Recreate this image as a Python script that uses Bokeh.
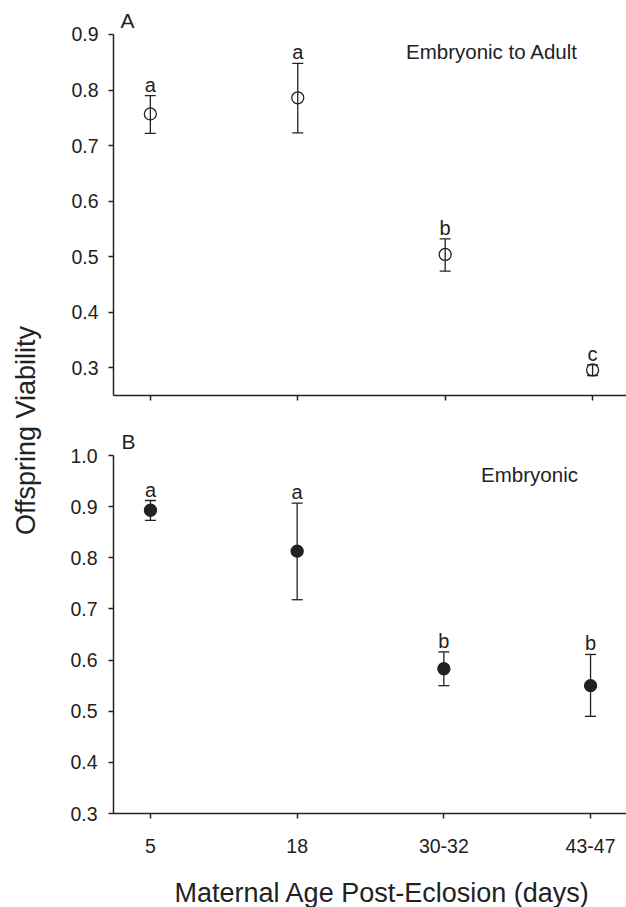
import math
from bokeh.plotting import figure
from bokeh.layouts import row, column
from bokeh.models import (ColumnDataSource, Range1d, FixedTicker, PrintfTickFormatter,
                          Whisker, TeeHead, Label)
from bokeh.core.properties import value
from bokeh.embed import file_html
from bokeh.resources import INLINE

# ---------------- data ----------------
age_groups = ["5", "18", "30-32", "43-47"]
positions = [0, 1, 2, 3]

adult_mean = [0.757, 0.786, 0.504, 0.296]
adult_upper = [0.790, 0.848, 0.532, 0.305]
adult_lower = [0.722, 0.723, 0.474, 0.286]
adult_letters = ["a", "a", "b", "c"]

embryo_mean = [0.893, 0.813, 0.583, 0.550]
embryo_upper = [0.912, 0.907, 0.616, 0.611]
embryo_lower = [0.873, 0.718, 0.550, 0.490]
embryo_letters = ["a", "a", "b", "b"]

adult_yticks = [0.3, 0.4, 0.5, 0.6, 0.7, 0.8, 0.9]
embryo_yticks = [0.3, 0.4, 0.5, 0.6, 0.7, 0.8, 0.9, 1.0]

FONT = "Liberation Sans"
INK = "#222222"


def style(p, yticks, ybounds, y_standoff, show_xlabels):
    p.grid.visible = False
    p.outline_line_color = None
    p.background_fill_color = "white"
    p.border_fill_color = "white"
    for ax in (p.xaxis[0], p.yaxis[0]):
        ax.axis_line_color = INK
        ax.axis_line_width = 1.5
        ax.major_tick_line_color = INK
        ax.major_tick_line_width = 1.5
        ax.major_tick_out = 5
        ax.major_tick_in = 0
        ax.minor_tick_line_color = None
        ax.major_label_text_font = FONT
        ax.major_label_text_font_size = "19.5px"
        ax.major_label_text_color = INK
    p.yaxis[0].ticker = FixedTicker(ticks=yticks)
    p.yaxis[0].formatter = PrintfTickFormatter(format="%.1f")
    p.yaxis[0].major_label_standoff = y_standoff
    p.yaxis[0].bounds = ybounds
    p.xaxis[0].ticker = FixedTicker(ticks=positions)
    p.xaxis[0].major_label_overrides = {pos: lab for pos, lab in zip(positions, age_groups)}
    p.xaxis[0].major_label_standoff = 20
    if not show_xlabels:
        p.xaxis[0].major_label_text_color = None
        p.xaxis[0].major_label_standoff = 0


def panel(p, mean, upper, lower, letters, filled):
    src = ColumnDataSource(dict(x=positions, mean=mean, upper=upper, lower=lower, letter=letters))
    w = Whisker(base="x", upper="upper", lower="lower", source=src,
                line_color=INK, line_width=1.3,
                upper_head=TeeHead(size=11, line_color=INK, line_width=1.3),
                lower_head=TeeHead(size=11, line_color=INK, line_width=1.3))
    p.add_layout(w)
    p.scatter(x="x", y="mean", source=src, size=12, marker="circle",
              line_color=INK, line_width=1.3,
              fill_color=INK if filled else None)
    p.text(x="x", y="upper", text="letter", source=src,
           text_font=value(FONT), text_font_size="20px", text_color=INK,
           text_align="center", text_baseline="bottom")


# ---------------- left strip with the shared y title ----------------
p0 = figure(width=58, height=907, x_range=Range1d(0, 58), y_range=Range1d(907, 0),
            output_backend="svg", toolbar_location=None, min_border=0)
p0.axis.visible = False
p0.grid.visible = False
p0.outline_line_color = None
p0.add_layout(Label(x=25, y=430, text="Offspring Viability", angle=math.pi / 2,
                    text_font=FONT, text_font_size="27px", text_color=INK,
                    text_align="center", text_baseline="middle"))

# ---------------- panel A ----------------
p1 = figure(width=568, height=430, x_range=Range1d(-0.25, 3.23), y_range=Range1d(0.25, 0.9612),
            output_backend="svg", toolbar_location=None,
            min_border_left=55, min_border_right=0, min_border_top=0, min_border_bottom=35)
style(p1, adult_yticks, (0.25, 0.9), 10, False)
panel(p1, adult_mean, adult_upper, adult_lower, adult_letters, False)
p1.add_layout(Label(x=-0.25, y=0.9243, x_offset=7, text="A",
                    text_font=FONT, text_font_size="21px", text_color=INK,
                    text_baseline="middle"))
p1.add_layout(Label(x=2.318, y=0.869, text="Embryonic to Adult",
                    text_font=FONT, text_font_size="20.5px", text_color=INK,
                    text_align="center", text_baseline="middle"))

# ---------------- panel B ----------------
p2 = figure(width=568, height=440, x_range=Range1d(-0.252, 3.245), y_range=Range1d(0.3, 1.0489),
            output_backend="svg", toolbar_location=None,
            min_border_left=55, min_border_right=0, min_border_top=0, min_border_bottom=57)
style(p2, embryo_yticks, (0.3, 1.0), 11, True)
panel(p2, embryo_mean, embryo_upper, embryo_lower, embryo_letters, True)
p2.add_layout(Label(x=-0.252, y=1.0274, x_offset=8, text="B",
                    text_font=FONT, text_font_size="21px", text_color=INK,
                    text_baseline="middle"))
p2.add_layout(Label(x=2.584, y=0.963, text="Embryonic",
                    text_font=FONT, text_font_size="20.5px", text_color=INK,
                    text_align="center", text_baseline="middle"))

# ---------------- bottom strip with the x title ----------------
p3 = figure(width=568, height=37, x_range=p2.x_range, y_range=Range1d(37, 0),
            output_backend="svg", toolbar_location=None,
            min_border_left=55, min_border_right=0, min_border_top=0, min_border_bottom=0)
p3.axis.visible = False
p3.grid.visible = False
p3.outline_line_color = None
p3.add_layout(Label(x=1.581, y=22, text="Maternal Age Post-Eclosion (days)",
                    text_font=FONT, text_font_size="27px", text_color=INK,
                    text_align="center", text_baseline="middle"))

layout = row(p0, column(p1, p2, p3))
open("out.html", "w").write(file_html(layout, INLINE))
